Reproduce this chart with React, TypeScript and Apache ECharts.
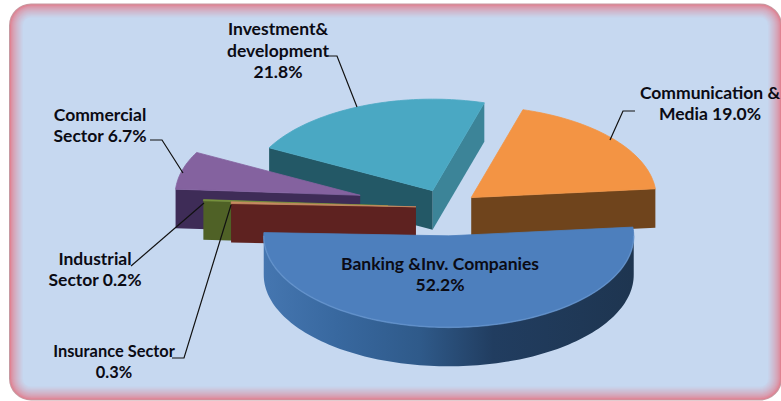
import React, { useEffect, useRef } from "react";
import * as echarts from "echarts";

// Slices, counter-clockwise from the right-hand edge of the orange slice
const categories = [
  "Communication & Media",
  "Investment& development",
  "Commercial Sector",
  "Industrial Sector",
  "Insurance Sector",
  "Banking &Inv. Companies",
];
const shares = [19.0, 21.8, 6.7, 0.2, 0.3, 52.2];
const explosions = [0.17, 0.2, 0.488, 0.319, 0.168, 0.31];
const drawOrder = [1, 0, 2, 3, 4, 5];

const topColors = ["#f39444", "#4aa8c3", "#84629f", "#76923c", "#c88a62", "#4d7fbd"];
const startWallColors = ["#6f441c", "#3c8498", "#3e2c57", "#4f6126", "#5e2220", "#2f5a8a"];
const endWallColors = ["#6f441c", "#235866", "#3e2c57", "#4f6126", "#5e2220", "#2f5a8a"];

const labelTexts = [
  "Communication &\nMedia 19.0%",
  "Investment&\ndevelopment\n21.8%",
  "Commercial\nSector 6.7%",
  "Industrial\nSector 0.2%",
  "Insurance Sector\n0.3%",
  "Banking &Inv. Companies\n52.2%",
];
const labelSizes = [17.5, 17.5, 17.5, 17.5, 16.4, 17.5];
const labelAnchors = [
  [710, 103],
  [278, 50],
  [100, 125],
  [95, 269],
  [114, 361],
  [440, 274],
];
const leaderLines = [
  [[635, 111], [623, 111], [610, 140]],
  [[328, 56], [337, 56], [357, 107]],
  [[150, 140], [162, 140], [183, 173]],
  [[131, 266], [204, 203]],
  [[172, 358], [184, 358], [231, 205]],
];

const PIE = { cx: 447, cy: 207.5, rx: 185, ry: 91.5, depth: 39, start: 5.5 };

const rad = (d: number) => (d * Math.PI) / 180;
const mix = (a: number[], b: number[], t: number) =>
  `rgb(${a.map((v, i) => Math.round(v + (b[i] - v) * t)).join(",")})`;

function spans() {
  const total = shares.reduce((s, v) => s + v, 0);
  let a = PIE.start;
  return shares.map((v) => {
    const a0 = a;
    a += (v / total) * 360;
    return [a0, a];
  });
}

function renderSlice(_: any, api: any) {
  const i = api.value(0);
  const [a0, a1] = spans()[i];
  const mid = rad((a0 + a1) / 2);
  const e = explosions[i];
  const ox = PIE.cx + PIE.rx * e * Math.cos(mid);
  const oy = PIE.cy - PIE.ry * e * Math.sin(mid);
  const pt = (d: number): number[] => [
    ox + PIE.rx * Math.cos(rad(d)),
    oy - PIE.ry * Math.sin(rad(d)),
  ];
  const arc = (from: number, to: number) => {
    const out: number[][] = [];
    const n = Math.max(2, Math.ceil(Math.abs(to - from) / 1.5));
    for (let k = 0; k <= n; k++) out.push(pt(from + ((to - from) * k) / n));
    return out;
  };
  const down = (p: number[]) => [p[0], p[1] + PIE.depth];
  const children: any[] = [];
  const wall = (d: number, fill: string) => {
    const p = pt(d);
    children.push({
      type: "polygon",
      shape: { points: [[ox, oy], p, down(p), [ox, oy + PIE.depth]] },
      style: { fill },
    });
  };
  if (Math.cos(rad(a0)) > 0) wall(a0, startWallColors[i]);
  if (Math.cos(rad(a1)) < 0) wall(a1, endWallColors[i]);
  const r0 = Math.max(a0, 180);
  const r1 = Math.min(a1, 360);
  if (r1 > r0) {
    const rim = arc(r0, r1);
    children.push({
      type: "polygon",
      shape: { points: [...rim, ...rim.map(down).reverse()] },
      style: {
        fill: new echarts.graphic.LinearGradient(0, 0, 1, 0, [
          { offset: 0, color: "#4576b0" },
          { offset: 0.2, color: "#38689f" },
          { offset: 0.42, color: "#2f5a8a" },
          { offset: 0.62, color: "#213d60" },
          { offset: 1, color: "#1e3550" },
        ]),
      },
    });
  }
  children.push({
    type: "polygon",
    shape: { points: [[ox, oy], ...arc(a0, a1)] },
    style: { fill: topColors[i], stroke: topColors[i], lineWidth: 0.8 },
  });
  if (r1 > r0) {
    children.push({
      type: "polyline",
      shape: { points: arc(r0, r1) },
      style: { stroke: "#6f9dd6", lineWidth: 1.6, fill: "none", opacity: 0.5 },
    });
  }
  return { type: "group", children };
}

function frame() {
  const outer = [224, 130, 146];
  const inner = [198, 216, 240];
  const steps = 14;
  const out: any[] = [
    {
      type: "rect",
      z: 0,
      shape: { x: 9, y: 3.5, width: 773, height: 397, r: 22 },
      style: { fill: "#c79aa2" },
    },
  ];
  for (let k = 0; k < steps; k++) {
    const t = k / (steps - 1);
    out.push({
      type: "rect",
      z: 0,
      shape: {
        x: 10 + k,
        y: 4.5 + k,
        width: 771 - 2 * k,
        height: 395 - 2 * k,
        r: Math.max(8, 21 - k),
      },
      style: { fill: mix(outer, inner, Math.pow(t, 0.7)) },
    });
  }
  return out;
}

export default function App() {
  const ref = useRef<HTMLDivElement>(null);
  useEffect(() => {
    const chart = echarts.init(ref.current!, undefined, { renderer: "svg" });
    chart.setOption({
      animation: false,
      graphic: {
        elements: [
          ...frame(),
          ...leaderLines.map((points) => ({
            type: "polyline",
            z: 50,
            shape: { points },
            style: { stroke: "#111", lineWidth: 1.2, fill: "none" },
          })),
          ...labelTexts.map((text, i) => ({
            type: "text",
            z: 60,
            x: labelAnchors[i][0],
            y: labelAnchors[i][1],
            style: {
              text,
              font: `700 ${labelSizes[i]}px Lato, "Noto Sans", sans-serif`,
              fill: "#0b0b14",
              align: "center",
              verticalAlign: "middle",
              lineHeight: 21.5,
            },
          })),
        ],
      },
      series: [
        {
          type: "custom",
          coordinateSystem: "none",
          z: 5,
          silent: true,
          renderItem: renderSlice,
          data: drawOrder.map((i) => ({ name: categories[i], value: [i, shares[i]] })),
        },
      ],
    });
    return () => chart.dispose();
  }, []);
  return (
    <div
      ref={ref}
      style={{ position: "absolute", left: 0, top: 0, width: 781, height: 401 }}
    />
  );
}
